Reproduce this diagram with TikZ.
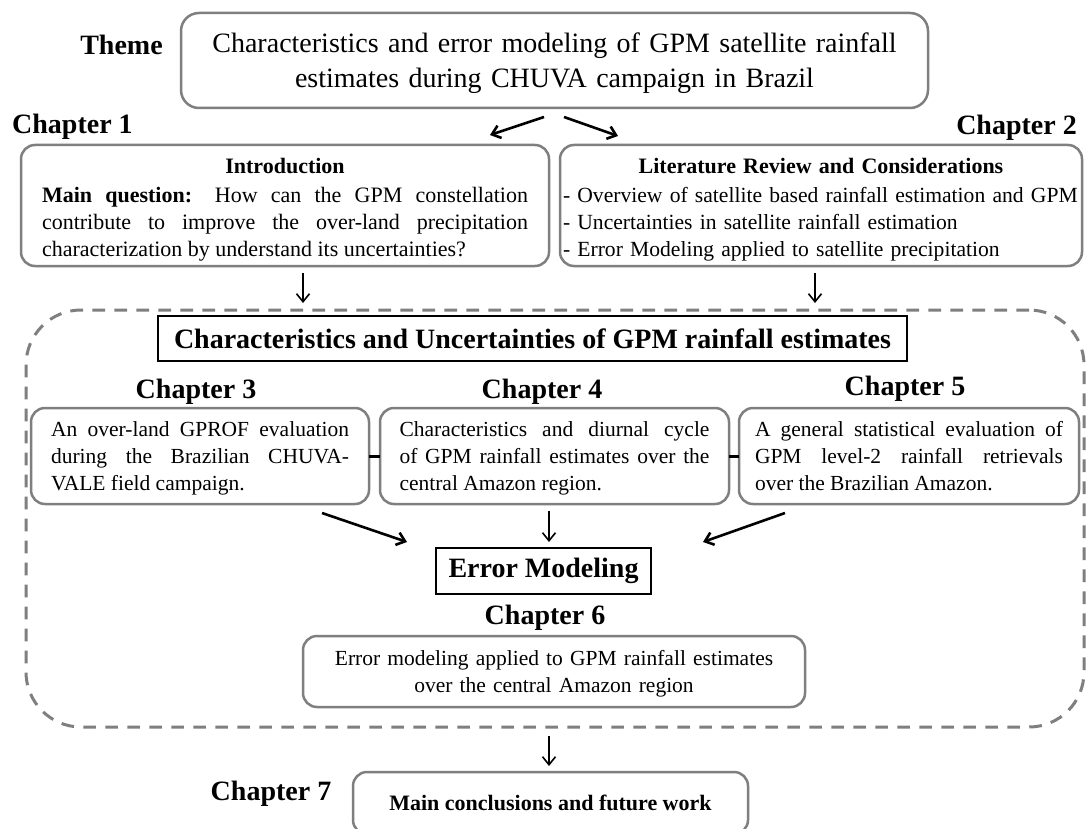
\documentclass[tikz,border=0pt]{standalone}
\usepackage{fontspec}
\setmainfont{Liberation Serif}
\usetikzlibrary{arrows.meta}
\definecolor{boxgray}{RGB}{127,127,127}
\tolerance=10000 \hbadness=10000 \hyphenpenalty=10000 \parindent=0pt
\newcommand\txtbody{\fontsize{22}{27}\selectfont}
\newcommand\txtlit{\fontsize{21.6}{27}\selectfont}
\newcommand\txtlow{\fontsize{21.5}{27}\selectfont}
\newcommand\txtbig{\fontsize{28}{35}\selectfont}
\begin{document}
\begin{tikzpicture}[x=1pt,y=1pt,
  gbox/.style={draw=boxgray, line width=2.5pt, rounded corners=14pt, inner sep=0pt, outer sep=0pt},
  kbox/.style={draw=black, line width=1.3pt, inner sep=0pt, outer sep=0pt, font=\txtbig\bfseries},
  dbox/.style={draw=boxgray, line width=3pt, dash pattern=on 12.7pt off 9.3pt, rounded corners=55pt, inner sep=0pt},
  lbl/.style={font=\txtbig\bfseries, inner sep=0pt},
  boxtext/.style={inner sep=0pt},
  arr/.style={-{Straight Barb[length=8pt,width=13pt]}, line width=1.6pt},
  thickarr/.style={arr, line width=2.6pt},
  link/.style={line width=3pt}
]
\clip (0,0) rectangle (1086,-829);
\fill[white] (0,0) rectangle (1086,-829);

% Theme
\node[lbl] (themelbl) at (121.5,-45) {Theme};
\node[gbox, rounded corners=18pt, minimum width=747pt, minimum height=95pt] (theme) at (554.5,-60.5) {};
\node[boxtext, text width=720pt, align=center, font=\txtbig] (themetxt) at ([yshift=-3pt]theme.center)
  {Characteristics and error modeling of GPM satellite rainfall\\estimates during CHUVA campaign in Brazil};

% Chapter 1 and 2
\node[lbl, anchor=west] (c1) at (12,-127) {Chapter 1};
\node[lbl, anchor=east] (c2) at (1077,-128) {Chapter 2};

\node[gbox, minimum width=528pt, minimum height=121pt] (intro) at (285,-205.5) {};
\node[boxtext, text width=486pt, align=justify, font=\txtbody] (introtxt) at ([yshift=-4pt]intro.center)
  {{\centering\textbf{Introduction}\par}\vspace{2pt}\textbf{Main question:} How can the GPM constellation\linebreak contribute to improve the over-land precipitation\linebreak characterization by understand its uncertainties?};

\node[gbox, minimum width=522pt, minimum height=121pt] (lit) at (821,-205.5) {};
\node[boxtext, text width=516pt, align=left, font=\txtlit] (littxt) at ([yshift=-4pt]lit.center)
  {{\centering\txtbody\textbf{Literature Review and Considerations}\par}\vspace{2pt}- Overview of satellite based rainfall estimation and GPM\\- Uncertainties in satellite rainfall estimation\\- Error Modeling applied to satellite precipitation};

% dashed group
\node[dbox, minimum width=1058pt, minimum height=417pt] (group) at (555,-518.5) {};

\node[kbox, minimum width=749pt, minimum height=45pt] (title) at (532.5,-338.5)
  {Characteristics and Uncertainties of GPM rainfall estimates};

\node[lbl] (c3) at (196,-392) {Chapter 3};
\node[lbl] (c4) at (542,-392) {Chapter 4};
\node[lbl] (c5) at (905,-389) {Chapter 5};

\node[gbox, minimum width=338pt, minimum height=96pt] (ch3) at (200,-456) {};
\node[boxtext, text width=298pt, align=justify, font=\txtlow] (ch3txt) at ([yshift=-2pt]ch3.center)
  {An over-land GPROF evaluation\linebreak during the Brazilian CHUVA-\linebreak VALE field campaign.};
\node[gbox, minimum width=349pt, minimum height=96pt] (ch4) at (554.5,-456) {};
\node[boxtext, text width=310pt, align=justify, font=\txtlow] (ch4txt) at ([yshift=-2pt]ch4.center)
  {Characteristics and diurnal cycle\linebreak of GPM rainfall estimates over the\linebreak central Amazon region.};
\node[gbox, minimum width=340pt, minimum height=96pt] (ch5) at (909,-456) {};
\node[boxtext, text width=308pt, align=justify, font=\txtlow] (ch5txt) at ([yshift=-2pt]ch5.center)
  {A general statistical evaluation of\linebreak GPM level-2 rainfall retrievals\linebreak over the Brazilian Amazon.\vphantom{g}};

\draw[link] (ch3.east) -- (ch4.west);
\draw[link] (ch4.east) -- (ch5.west);

\node[kbox, minimum width=215pt, minimum height=46pt] (em) at (543.5,-571) {Error Modeling};

\node[lbl] (c6) at (545,-618) {Chapter 6};
\node[gbox, minimum width=502pt, minimum height=71pt] (ch6) at (554,-671.5) {};
\node[boxtext, text width=480pt, align=center, font=\txtlow] (ch6txt) at ([yshift=-2pt]ch6.center)
  {Error modeling applied to GPM rainfall estimates\\over the central Amazon region};

\node[lbl] (c7) at (271,-794) {Chapter 7};
\node[gbox, minimum width=395pt, minimum height=62pt, font=\txtbody\bfseries] (ch7) at (550.5,-803)
  {Main conclusions and future work};

% arrow end points
\coordinate (a1s) at (544,-117); \coordinate (a1e) at (490,-135);
\coordinate (a2s) at (564,-117); \coordinate (a2e) at (618,-136);
\coordinate (a3s) at (303,-273); \coordinate (a3e) at (303,-303);
\coordinate (a4s) at (815,-273); \coordinate (a4e) at (815,-303);
\coordinate (a5s) at (322,-513); \coordinate (a5e) at (407,-542);
\coordinate (a6s) at (549,-511); \coordinate (a6e) at (549,-542);
\coordinate (a7s) at (785,-513); \coordinate (a7e) at (703,-542);
\coordinate (a8s) at (549,-736); \coordinate (a8e) at (549,-766);

\draw[thickarr] (a1s) -- (a1e);
\draw[thickarr] (a2s) -- (a2e);
\draw[arr] (a3s) -- (a3e);
\draw[arr] (a4s) -- (a4e);
\draw[thickarr] (a5s) -- (a5e);
\draw[arr] (a6s) -- (a6e);
\draw[thickarr] (a7s) -- (a7e);
\draw[arr] (a8s) -- (a8e);
\end{tikzpicture}
\end{document}
